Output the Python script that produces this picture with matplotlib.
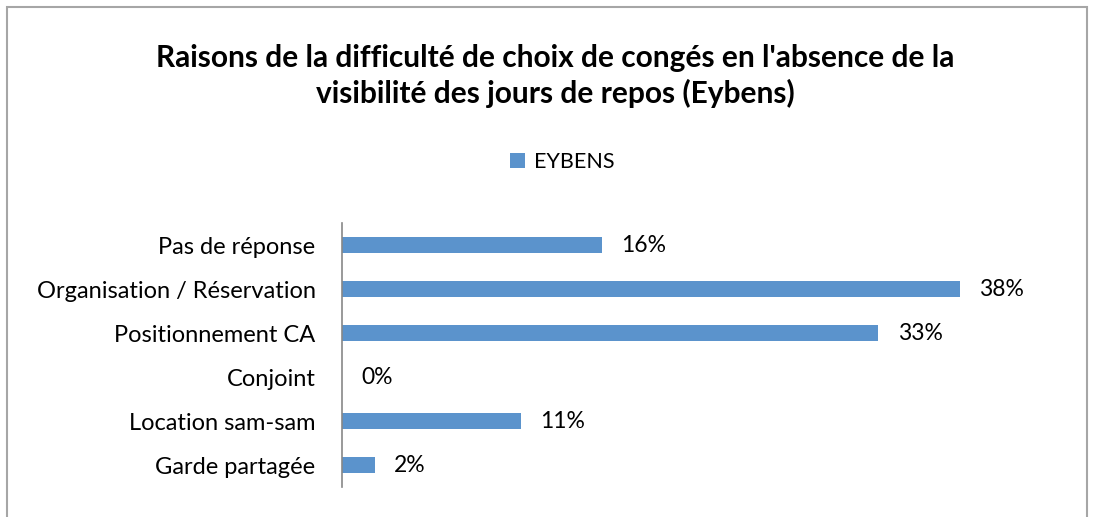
import matplotlib.pyplot as plt
from matplotlib.patches import Rectangle

categories = ['Pas de réponse', 'Organisation / Réservation', 'Positionnement CA',
              'Conjoint', 'Location sam-sam', 'Garde partagée']
values = [0.16, 0.38, 0.33, 0.00, 0.11, 0.02]
series_name = 'EYBENS'
title = "Raisons de la difficulté de choix de congés en l'absence de la\nvisibilité des jours de repos (Eybens)"

plt.rcParams['font.family'] = ['Lato', 'DejaVu Sans']
bar_color = '#5b93cc'

W, H = 1093, 517
fig = plt.figure(figsize=(W / 100, H / 100), dpi=100)

# outer chart frame (bottom edge runs off the image)
fig.patches.append(Rectangle((7 / W, -0.05), (1087 - 7) / W, (H - 7) / H + 0.05,
                             transform=fig.transFigure, fill=False,
                             edgecolor='#a6a6a6', linewidth=1.5))

ax = fig.add_axes([342 / W, 1 - 487 / H, 650 / W, 264 / H])
y = list(range(len(categories)))
bars = ax.barh(y, values, height=0.38, color=bar_color, label=series_name)
ax.set_ylim(len(categories) - 0.5, -0.5)
ax.set_xlim(0, 0.40)

for yi, v in zip(y, values):
    ax.text(v + 0.012, yi, f'{v:.0%}', va='center', ha='left', fontsize=16.5)

ax.set_yticks(y)
ax.set_yticklabels(categories, fontsize=17)
ax.tick_params(axis='y', length=0, pad=19)
ax.set_xticks([])
for s in ['top', 'right', 'bottom']:
    ax.spines[s].set_visible(False)
ax.spines['left'].set_color('#878787')
ax.spines['left'].set_linewidth(1.2)

fig.text(555 / W, 1 - 76 / H, title, ha='center', va='center', fontsize=21.5,
         fontweight='bold', linespacing=1.25)

fig.legend(handles=[bars], labels=[series_name], loc='center',
           bbox_to_anchor=(562 / W, 1 - 162 / H), frameon=False, fontsize=15.5,
           handlelength=0.7, handleheight=0.7, handletextpad=0.4)

fig.savefig('out.png', dpi=100)
